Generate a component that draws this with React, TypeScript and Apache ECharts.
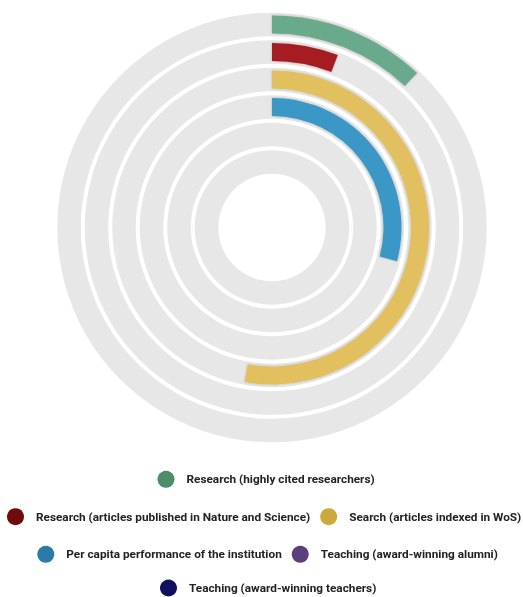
import React, { useEffect, useRef } from 'react';
import * as echarts from 'echarts';

const categories = [
  'Research (highly cited researchers)',
  'Research (articles published in Nature and Science)',
  'Search (articles indexed in WoS)',
  'Per capita performance of the institution',
  'Teaching (award-winning alumni)',
  'Teaching (award-winning teachers)',
];
const values = [12.0, 5.8, 52.8, 29.2, 0, 0];
const barColors = ['#6BAA8C', '#A51E22', '#E3C05E', '#3B98C6', '#6A4C8C', '#1A1A6E'];
const legendColors = ['#4E8D6B', '#6E0B0B', '#CDA83E', '#2B7BAA', '#5B3F7C', '#10105E'];
const maxValue = 100;
const legendRows = [[0], [1, 2], [3, 4], [5]];
const legendTops = [470.8, 508.2, 545.8, 579.5];
const legendLefts = [157.5, 7, 37.3, 160];
const legendGaps = [12, 10, 10, 12];

export default function App() {
  const ref = useRef<HTMLDivElement>(null);
  useEffect(() => {
    if (!ref.current) return;
    const chart = echarts.init(ref.current, undefined, { renderer: 'svg' });
    const center = [272, 227.5];
    const radius = [51.75, 216.75];
    const option: any = {
      animation: false,
      polar: [
        { center, radius },
        { center, radius },
      ],
      angleAxis: [0, 1].map((p) => ({
        polarIndex: p,
        type: 'value',
        min: 0,
        max: maxValue,
        startAngle: 90,
        clockwise: true,
        show: false,
      })),
      radiusAxis: [0, 1].map((p) => ({
        polarIndex: p,
        type: 'category',
        data: categories,
        inverse: true,
        show: false,
      })),
      legend: legendRows.map((row, r) => ({
        data: row.map((i) => ({ name: categories[i], itemStyle: { color: legendColors[i] } })),
        top: legendTops[r],
        left: legendLefts[r],
        orient: 'horizontal',
        icon: 'circle',
        itemWidth: 31,
        itemHeight: 17,
        itemGap: legendGaps[r],
        padding: 0,
        selectedMode: false,
        textStyle: {
          fontFamily: 'Roboto',
          fontSize: 11.8,
          fontWeight: 'bold',
          color: '#222222',
        },
      })),
      series: [
        {
          type: 'bar',
          name: '__background',
          coordinateSystem: 'polar',
          polarIndex: 0,
          barWidth: 23.5,
          silent: true,
          data: categories.map(() => maxValue),
          itemStyle: {
            color: '#E7E7E7',
          },
        },
        ...categories.map((name, i) => ({
          type: 'bar',
          name,
          coordinateSystem: 'polar',
          polarIndex: 1,
          stack: 'score',
          barWidth: 18,
          data: categories.map((_, j) => (j === i ? values[i] : '-')),
          itemStyle: {
            color: barColors[i],
            shadowBlur: 2,
            shadowColor: 'rgba(0,0,0,0.25)',
          },
        })),
      ],
    };
    chart.setOption(option);
    return () => chart.dispose();
  }, []);
  return (
    <div
      ref={ref}
      style={{ position: 'fixed', left: 0, top: 0, width: 523, height: 597 }}
    />
  );
}
